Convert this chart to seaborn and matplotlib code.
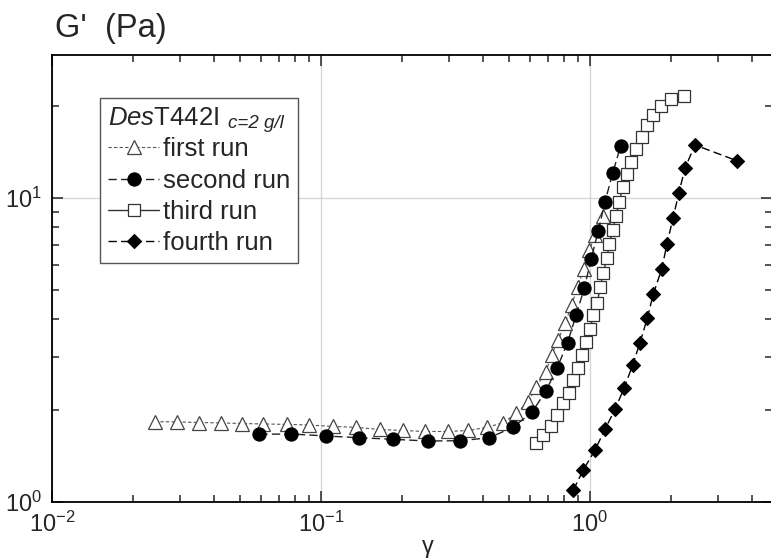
import matplotlib
matplotlib.use("Agg")
import matplotlib.pyplot as plt
import numpy as np
import pandas as pd
import seaborn as sns

# strain amplitude (gamma) and storage modulus G' (Pa)
first_x = [0.0241, 0.0292, 0.0352, 0.0424, 0.0510, 0.0610, 0.0746, 0.0905, 0.111, 0.135,
           0.165, 0.201, 0.244, 0.296, 0.353, 0.415, 0.476, 0.531, 0.590, 0.630,
           0.686, 0.720, 0.762, 0.807, 0.855, 0.899, 0.947, 0.994, 1.044, 1.121]
first_y = [1.837, 1.834, 1.826, 1.820, 1.812, 1.806, 1.800, 1.792, 1.772, 1.761,
           1.732, 1.719, 1.706, 1.706, 1.719, 1.761, 1.823, 1.958, 2.138, 2.384,
           2.684, 3.045, 3.411, 3.871, 4.446, 5.096, 5.840, 6.720, 7.560, 8.710]

second_x = [0.0590, 0.0773, 0.1041, 0.1388, 0.1857, 0.2493, 0.3287, 0.4223, 0.516, 0.609,
            0.686, 0.754, 0.825, 0.887, 0.952, 1.009, 1.074, 1.137, 1.214, 1.300]
second_y = [1.670, 1.674, 1.649, 1.627, 1.608, 1.587, 1.591, 1.627, 1.759, 1.973,
            2.323, 2.754, 3.342, 4.107, 5.046, 6.285, 7.806, 9.720, 12.06, 14.83]

third_x = [0.630, 0.671, 0.719, 0.757, 0.794, 0.835, 0.862, 0.902, 0.931, 0.970,
           1.000, 1.030, 1.066, 1.089, 1.121, 1.154, 1.180, 1.214, 1.249, 1.285,
           1.323, 1.369, 1.420, 1.483, 1.557, 1.624, 1.719, 1.836, 2.001, 2.241]
third_y = [1.560, 1.661, 1.778, 1.932, 2.109, 2.288, 2.519, 2.766, 3.045, 3.368,
           3.700, 4.107, 4.531, 5.085, 5.653, 6.333, 7.042, 7.849, 8.727, 9.700,
           10.84, 11.95, 13.16, 14.50, 15.84, 17.39, 18.75, 20.08, 21.12, 21.65]

fourth_x = [0.867, 0.944, 1.044, 1.137, 1.239, 1.338, 1.441, 1.534, 1.633, 1.719,
            1.847, 1.932, 2.035, 2.142, 2.255, 2.457, 3.511]
fourth_y = [1.095, 1.274, 1.483, 1.735, 2.018, 2.366, 2.823, 3.342, 4.020, 4.833,
            5.829, 7.042, 8.596, 10.41, 12.55, 14.94, 13.27]

labels = ["first run", "second run", "third run", "fourth run"]

sns.set_style("ticks")
plt.rcParams['font.family'] = ['Liberation Sans', 'DejaVu Sans']
plt.rcParams['mathtext.fontset'] = 'custom'
plt.rcParams['mathtext.rm'] = 'Liberation Sans'
plt.rcParams['mathtext.it'] = 'Liberation Sans:italic'
plt.rcParams['mathtext.bf'] = 'Liberation Sans:bold'

fig = plt.figure(figsize=(7.71, 5.60), dpi=100)
ax = fig.add_axes([52 / 771, 58 / 560, 720 / 771, 447 / 560])

styles = [
    dict(color="#555555", lw=0.8, linestyle=(0, (3, 2)), marker="^", markersize=9.5,
         markerfacecolor="white", mec="#444444", mew=0.9),
    dict(color="#222222", lw=1.0, linestyle=(0, (6, 3)), marker="o", markersize=9.5,
         markerfacecolor="black", mec="black", mew=0.8),
    dict(color="#333333", lw=1.0, linestyle="-", marker="s", markersize=8.5,
         markerfacecolor="white", mec="#333333", mew=0.9),
    dict(color="black", lw=1.0, linestyle=(0, (6, 3)), marker="D", markersize=7,
         markerfacecolor="black", mec="black", mew=0.8),
]
series = [(first_x, first_y), (second_x, second_y), (third_x, third_y), (fourth_x, fourth_y)]
for (xs, ys), lab, st in zip(series, labels, styles):
    df = pd.DataFrame({"gamma": xs, "G": ys})
    sns.lineplot(data=df, x="gamma", y="G", ax=ax, label=lab, estimator=None, sort=False, **st)

ax.set_xscale("log")
ax.set_yscale("log")
ax.set_xlim(0.01, 10 ** ((772 - 590) / 269))
ax.set_ylim(1, 10 ** ((502 - 55) / 304))
ax.grid(True, which="major", color="#d4d4d4", lw=0.9)
ax.set_axisbelow(True)
for sp in ax.spines.values():
    sp.set_linewidth(1.3)
    sp.set_color("black")
ax.tick_params(which="both", direction="in", top=True, right=True, labelsize=17, width=1.1)
ax.tick_params(which="major", length=8, pad=7)
ax.tick_params(which="minor", length=5)

ax.set_xlabel("γ", fontsize=17)
ax.xaxis.set_label_coords(0.522, -0.075)
ax.set_ylabel("")
fig.text(55 / 771, 1 - 37 / 560, "G'  (Pa)", fontsize=23.5, va="baseline")

leg = ax.legend(loc="upper left", bbox_to_anchor=(0.0669, 0.904), borderaxespad=0,
                title=r"$\mathit{Des}$T442I", title_fontsize=18.5, alignment="left",
                fontsize=18.5, numpoints=1, handlelength=2.0, handletextpad=0.15,
                labelspacing=0.29, borderpad=0.3, fancybox=False, framealpha=1,
                edgecolor="#555555")
leg.get_frame().set_linewidth(1.0)
ax.text((228 - 52) / 718, (502 - 124) / 447, "c=2 g/l", transform=ax.transAxes,
        fontsize=13.5, fontstyle="italic", va="center", ha="left", zorder=10)

fig.savefig("out.png", dpi=100)
